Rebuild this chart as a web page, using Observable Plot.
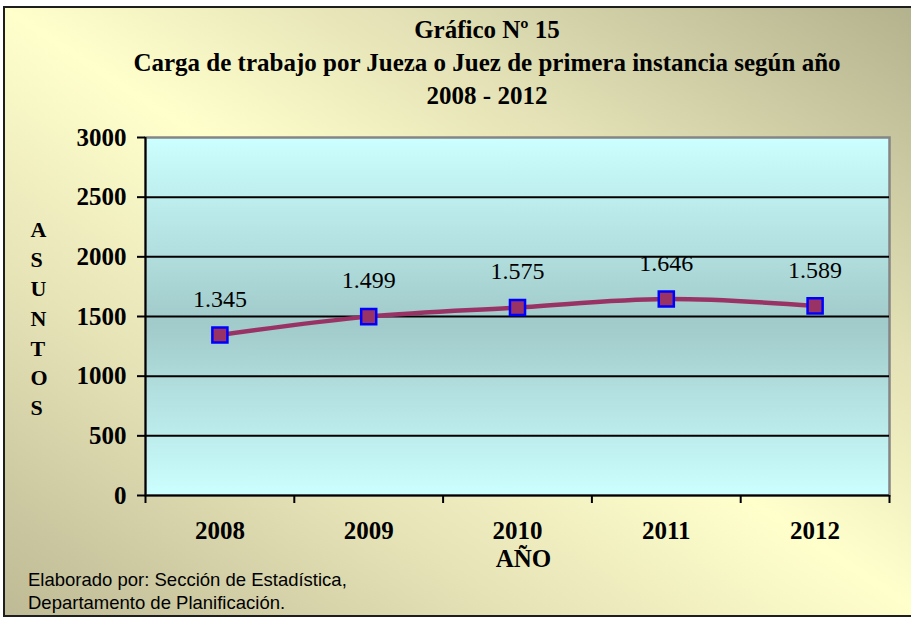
<!DOCTYPE html>
<html>
<head>
<meta charset="utf-8">
<script src="https://cdn.jsdelivr.net/npm/d3@7"></script>
<script src="https://cdn.jsdelivr.net/npm/@observablehq/plot@0.6"></script>
<style>
  html, body { margin: 0; padding: 0; background: #fff; }
  #wrap { position: relative; width: 911px; height: 618px; overflow: hidden; background: #fff; }
  #bg { position: absolute; left: 3px; top: 6px; width: 920px; height: 607px;
        border: 2px solid #1e1e1e;
        background: linear-gradient(to bottom left, #b2b18d 0%, #e4e2b6 30%, #ffffcc 50%, #e6e3b7 72%, #bdba95 100%); }
  #title { position: absolute; left: 37px; width: 900px; top: 13px; text-align: center;
           font: bold 25px "Liberation Serif", "Times New Roman", serif; line-height: 33px; color: #000; }
  #plot { position: absolute; left: 0; top: 115px; }
  #caption { position: absolute; left: 28px; top: 568px; font: 18.5px "Liberation Sans", Arial, sans-serif;
             line-height: 23px; color: #000; }
</style>
</head>
<body>
<div id="wrap">
  <div id="bg"></div>
  <div id="title">Gráfico Nº 15<br>Carga de trabajo por Jueza o Juez de primera instancia según año<br>2008 - 2012</div>
  <div id="plot"></div>
  <div id="caption">Elaborado por: Sección de Estadística,<br>Departamento de Planificación.</div>
</div>
<script>
// ---- data ----
const years = [2008, 2009, 2010, 2011, 2012];
const asuntos = [1345, 1499, 1575, 1646, 1589];
const valueLabels = ["1.345", "1.499", "1.575", "1.646", "1.589"];
const yTicks = [0, 500, 1000, 1500, 2000, 2500, 3000];
const gridValues = [500, 1000, 1500, 2000, 2500];
const categoryBounds = [2007.5, 2008.5, 2009.5, 2010.5, 2011.5, 2012.5];
const xTitle = "AÑO";
const yTitle = "ASUNTOS";

const rows = years.map((y, i) => ({year: y, value: asuntos[i], label: valueLabels[i]}));

const serif = '"Liberation Serif", "Times New Roman", serif';

const chart = Plot.plot({
  width: 911,
  height: 470,
  marginLeft: 145,
  marginRight: 22,
  marginTop: 22,
  marginBottom: 90,
  style: {background: "transparent", overflow: "visible"},
  x: {type: "linear", domain: [categoryBounds[0], categoryBounds[categoryBounds.length - 1]], label: null},
  y: {domain: [0, 3000], label: null},
  marks: [
    Plot.frame({fill: "url(#plotbg)", stroke: "#858585", strokeWidth: 2.5}),
    Plot.ruleY(gridValues, {stroke: "#000", strokeWidth: 2}),
    Plot.ruleY([0], {stroke: "#000", strokeWidth: 2}),
    Plot.ruleX([categoryBounds[0]], {stroke: "#000", strokeWidth: 2}),
    Plot.axisY(yTicks, {tickSize: 8, tickPadding: 11, strokeWidth: 2, stroke: "#000",
      fontSize: 25, fontWeight: "bold", fontFamily: serif, fill: "#000", tickFormat: "d", label: null}),
    Plot.axisX(categoryBounds, {tickSize: 8, strokeWidth: 2, stroke: "#000", tickFormat: () => "", label: null}),
    Plot.axisX(years, {tickSize: 0, tickPadding: 26, fontSize: 25, fontWeight: "bold", fontFamily: serif,
      fill: "#000", tickFormat: "d", label: null}),
    Plot.text([xTitle], {frameAnchor: "bottom", dx: 6, dy: 71, fontSize: 25, fontWeight: "bold",
      fontFamily: serif, fill: "#000"}),
    Plot.text([yTitle.split("").join("\n")], {frameAnchor: "left", dx: -115, lineHeight: 1.35,
      fontSize: 22, fontWeight: "bold", fontFamily: serif, fill: "#000"}),
    Plot.line(rows, {x: "year", y: "value", curve: "catmull-rom", stroke: "#993366", strokeWidth: 4.5}),
    Plot.dot(rows, {x: "year", y: "value", symbol: "square", r: 8.5, fill: "#993366", stroke: "#0000ff", strokeWidth: 2.5}),
    Plot.text(rows, {x: "year", y: "value", text: "label", dy: -36, fontSize: 24, fontFamily: serif, fill: "#000"})
  ]
});

const svg = d3.select(chart);
const defs = svg.insert("defs", ":first-child");
const grad = defs.append("linearGradient").attr("id", "plotbg")
  .attr("x1", 0).attr("y1", 0).attr("x2", 0).attr("y2", 1);
grad.append("stop").attr("offset", "0%").attr("stop-color", "#ccffff");
grad.append("stop").attr("offset", "52%").attr("stop-color", "#a1caca");
grad.append("stop").attr("offset", "100%").attr("stop-color", "#ccffff");

document.getElementById("plot").appendChild(chart);
</script>
</body>
</html>
